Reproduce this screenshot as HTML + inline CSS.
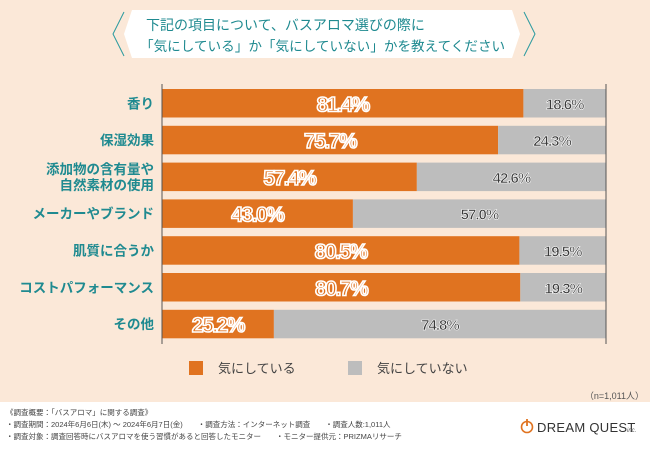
<!DOCTYPE html>
<html><head><meta charset="utf-8"><style>
body{margin:0;width:650px;height:450px;overflow:hidden;font-family:"Liberation Sans","Noto Sans CJK JP",sans-serif;}
</style></head><body>
<svg width="650" height="450" viewBox="0 0 650 450" xmlns="http://www.w3.org/2000/svg">
<rect x="0" y="0" width="650" height="402" fill="#fbe8d8"/>
<rect x="0" y="402" width="650" height="48" fill="#ffffff"/>
<g>
<polygon points="132,10 512,10 520,34 512,58 132,58 124,34" fill="#ffffff"/>
<polyline points="124,12 113,34 124,56" fill="none" stroke="#2a9a9f" stroke-width="1"/>
<polyline points="524,12 535,34 524,56" fill="none" stroke="#2a9a9f" stroke-width="1"/>
<text x="146" y="30" font-size="14" fill="#1f8a90">下記の項目について、バスアロマ選びの際に</text>
<text x="140" y="51" font-size="13.6" fill="#1f8a90">「気にしている」か「気にしていない」かを教えてください</text>
</g>
<g id="plot"></g>
<line x1="162" y1="84" x2="162" y2="344" stroke="#555" stroke-width="1"/>
<line x1="606" y1="84" x2="606" y2="344" stroke="#555" stroke-width="1"/>
<g>
<rect x="189" y="361" width="14" height="14" fill="#e07320"/>
<text x="218" y="373" font-size="13" fill="#444">気にしている</text>
<rect x="348" y="361" width="14" height="14" fill="#bdbdbd"/>
<text x="377" y="373" font-size="13" fill="#444">気にしていない</text>
</g>
<text x="644" y="399" font-size="9" fill="#555" text-anchor="end">（n=1,011人）</text>
<g font-size="7.5" fill="#444">
<text x="6" y="415">《調査概要：「バスアロマ」に関する調査》</text>
<text x="6" y="427">・調査期間：2024年6月6日(木) ～ 2024年6月7日(金)　　・調査方法：インターネット調査　　・調査人数:1,011人</text>
<text x="6" y="439">・調査対象：調査回答時にバスアロマを使う習慣があると回答したモニター　　・モニター提供元：PRIZMAリサーチ</text>
</g>
<g>
<circle cx="527" cy="427" r="5.5" fill="none" stroke="#e07320" stroke-width="1.6"/>
<line x1="527" y1="419" x2="527" y2="426" stroke="#e07320" stroke-width="1.8"/>
<text x="537" y="432" font-size="13" fill="#333" letter-spacing="0.3">DREAM QUEST</text>
<text x="627" y="432" font-size="6" fill="#555" font-style="italic">inc.</text>
</g>
</svg>
<script>
const categories=["香り","保湿効果","添加物の含有量や|自然素材の使用","メーカーやブランド","肌質に合うか","コストパフォーマンス","その他"];
const careValues=[81.4,75.7,57.4,43.0,80.5,80.7,25.2];
const notCareValues=[18.6,24.3,42.6,57.0,19.5,19.3,74.8];
const NS="http://www.w3.org/2000/svg";
const plot=document.getElementById('plot');
const x0=162,plotW=444,y0=89,step=36.8,bh=28.5;
const xs=v=>x0+v/100*plotW;
const yb=i=>y0+i*step;
function mk(tag,attrs){const e=document.createElementNS(NS,tag);for(const k in attrs)e.setAttribute(k,attrs[k]);plot.appendChild(e);return e;}
categories.forEach((c,i)=>{
  const y=yb(i);
  const a=careValues[i],b=notCareValues[i];
  const r1=mk('rect',{x:xs(0),y:y,width:xs(a)-xs(0),height:bh,fill:'#e07320'});
  
  
  const r2=mk('rect',{x:xs(a),y:y,width:xs(a+b)-xs(a),height:bh,fill:'#bdbdbd'});
  
  
  const t1=mk('text',{x:(xs(0)+xs(a))/2,y:y+bh/2+8,'font-size':21,'font-weight':'bold','text-anchor':'middle',fill:'#e07320',stroke:'#fff','stroke-width':1.6,'letter-spacing':-1.5});
  t1.textContent=a.toFixed(1)+'%';
  
  
  const t2=mk('text',{x:(xs(a)+xs(a+b))/2,y:y+bh/2+6,'font-size':15,'font-weight':'bold','text-anchor':'middle',fill:'#3a3a3a',stroke:'#fff','stroke-width':0.6,'letter-spacing':-1});
  t2.textContent=b.toFixed(1)+'%';
  
  
  const lines=c.split('|');
  lines.forEach((ln,j)=>{
    const ty=y+bh/2+5+(j-(lines.length-1)/2)*16;
    const t=mk('text',{x:154,y:ty,'font-size':13.5,'text-anchor':'end',fill:'#1f8a90','font-weight':'bold'});
    t.textContent=ln;
    
    
  });
});
</script>
</body></html>
